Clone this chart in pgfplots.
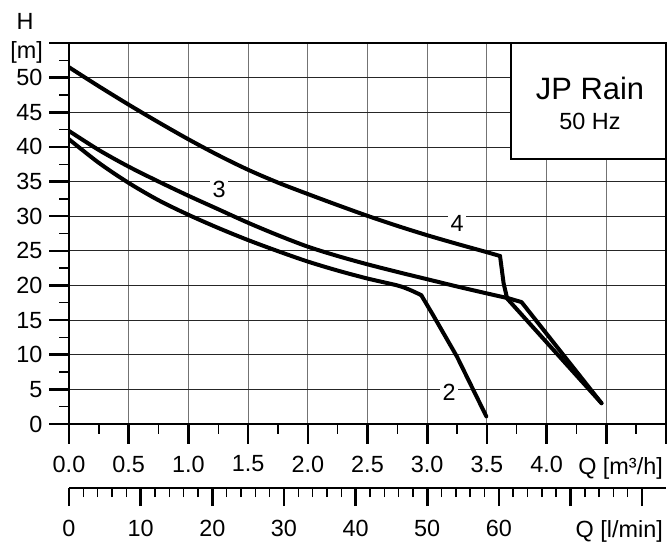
\documentclass[border=0pt]{standalone}
\usepackage{fontspec}
\setmainfont{Liberation Sans}
\usepackage{pgfplots}
\pgfplotsset{compat=1.18}

\begin{document}
\begin{tikzpicture}[font=\fontsize{23.5}{27}\selectfont]
% page = 670 x 542 bp, axis lower left at (0,0)
\path[use as bounding box] (-69bp,-118bp) rectangle (601bp,424bp);

\begin{axis}[
  at={(0,0)}, anchor=south west,
  width=597bp, height=381bp, scale only axis,
  xmin=0, xmax=5, ymin=0, ymax=55,
  xtick={0,0.5,1,1.5,2,2.5,3,3.5,4,4.5,5},
  xticklabels={0.0,0.5,1.0,1.5,2.0,2.5,3.0,3.5,4.0,{},{}},
  ytick={0,5,10,15,20,25,30,35,40,45,50,55},
  yticklabels={0,5,10,15,20,25,30,35,40,45,50,{}},
  minor x tick num=1, minor y tick num=1,
  xtick pos=bottom, ytick pos=left,
  tick align=outside,
  major tick length=19.5bp, minor tick length=9.5bp,
  major tick style={black, line width=2.6bp},
  minor tick style={black, line width=1.4bp},
  axis line style={black, line width=2.6bp},
  grid=major,
  x grid style={black!55, line width=1bp},
  y grid style={black!85, line width=0.8bp},
  tick label style={font=\fontsize{23.5}{27}\selectfont},
  xticklabel style={anchor=north, inner sep=0pt, yshift=-12bp},
  yticklabel style={anchor=east, inner sep=0pt, xshift=-7bp},
  /pgf/number format/assume math mode=true,
  every axis plot/.append style={black, no marks, line width=4bp, line join=round, line cap=round},
]
% curve 4
\addplot[black, smooth] coordinates {(0,51.5) (0.25,48.75) (0.5,46.1) (0.75,43.55) (1.0,41.1) (1.25,38.8) (1.5,36.7) (1.75,34.85) (2.0,33.2) (2.25,31.6) (2.5,30.05) (2.75,28.6) (3.0,27.25) (3.25,26.0) (3.5,24.8) (3.61,24.25)};
\addplot[black, sharp plot] coordinates {(3.61,24.25) (3.64,20.3) (3.67,18.1) (4.46,3.0)};
% curve 3
\addplot[black, smooth] coordinates {(0,42.3) (0.25,39.55) (0.5,37.15) (0.75,35.0) (1.0,32.95) (1.25,31.0) (1.5,29.05) (1.75,27.25) (2.0,25.6) (2.25,24.25) (2.5,23.05) (2.75,21.95) (3.0,20.9) (3.25,19.85) (3.5,18.85) (3.68,18.15)};
\addplot[black, sharp plot] coordinates {(3.68,18.15) (3.79,17.6) (4.46,3.0)};
% curve 2
\addplot[black, smooth] coordinates {(0,41.1) (0.25,37.7) (0.5,34.8) (0.75,32.3) (1.0,30.2) (1.25,28.3) (1.5,26.55) (1.75,24.95) (2.0,23.45) (2.25,22.15) (2.5,21.0) (2.75,20.0) (2.85,19.4) (2.95,18.6)};
\addplot[black, sharp plot] coordinates {(2.95,18.6) (3.05,15.7) (3.25,9.7) (3.495,1.1)};

\node[fill=white, inner sep=2.5bp] at (axis cs:1.257,33.8) {3};
\node[fill=white, inner sep=2.5bp] at (axis cs:3.25,28.9) {4};
\node[fill=white, inner sep=2.5bp] at (axis cs:3.183,4.57) {2};
\end{axis}

% second scale in l/min
\begin{axis}[
  at={(0,-64bp)}, anchor=south west,
  width=597bp, height=20bp, scale only axis,
  xmin=0, xmax=83.3333, ymin=0, ymax=1,
  axis x line=bottom, axis y line=none, ytick=\empty,
  x axis line style={-, black, line width=2.6bp},
  xtick={0,10,20,30,40,50,60,70,80},
  xticklabels={0,10,20,30,40,50,60,{},{}},
  minor x tick num=4,
  tick align=outside,
  major tick length=18bp, minor tick length=9bp,
  major tick style={black, line width=2.6bp},
  minor tick style={black, line width=1.4bp},
  tick label style={font=\fontsize{23.5}{27}\selectfont},
  xticklabel style={anchor=north, inner sep=0pt, yshift=-14bp},
]
\end{axis}

\node[anchor=base east, inner sep=0pt] at (594bp,-50bp) {Q [m³/h]};
\node[anchor=base east, inner sep=0pt] at (594bp,-113.7bp) {Q [l/min]};
\node[anchor=base, inner sep=0pt] at (-44bp,394bp) {H};
\node[anchor=base east, inner sep=0pt] at (-26bp,365bp) {[m]};

\draw[black, line width=2.6bp, fill=white] (442bp,381bp) rectangle (597bp,265bp);
\node[anchor=base, inner sep=0pt, font=\fontsize{31}{35}\selectfont] at (521bp,324.7bp) {JP Rain};
\node[anchor=base, inner sep=0pt] at (521bp,294bp) {50 Hz};
\end{tikzpicture}
\end{document}
